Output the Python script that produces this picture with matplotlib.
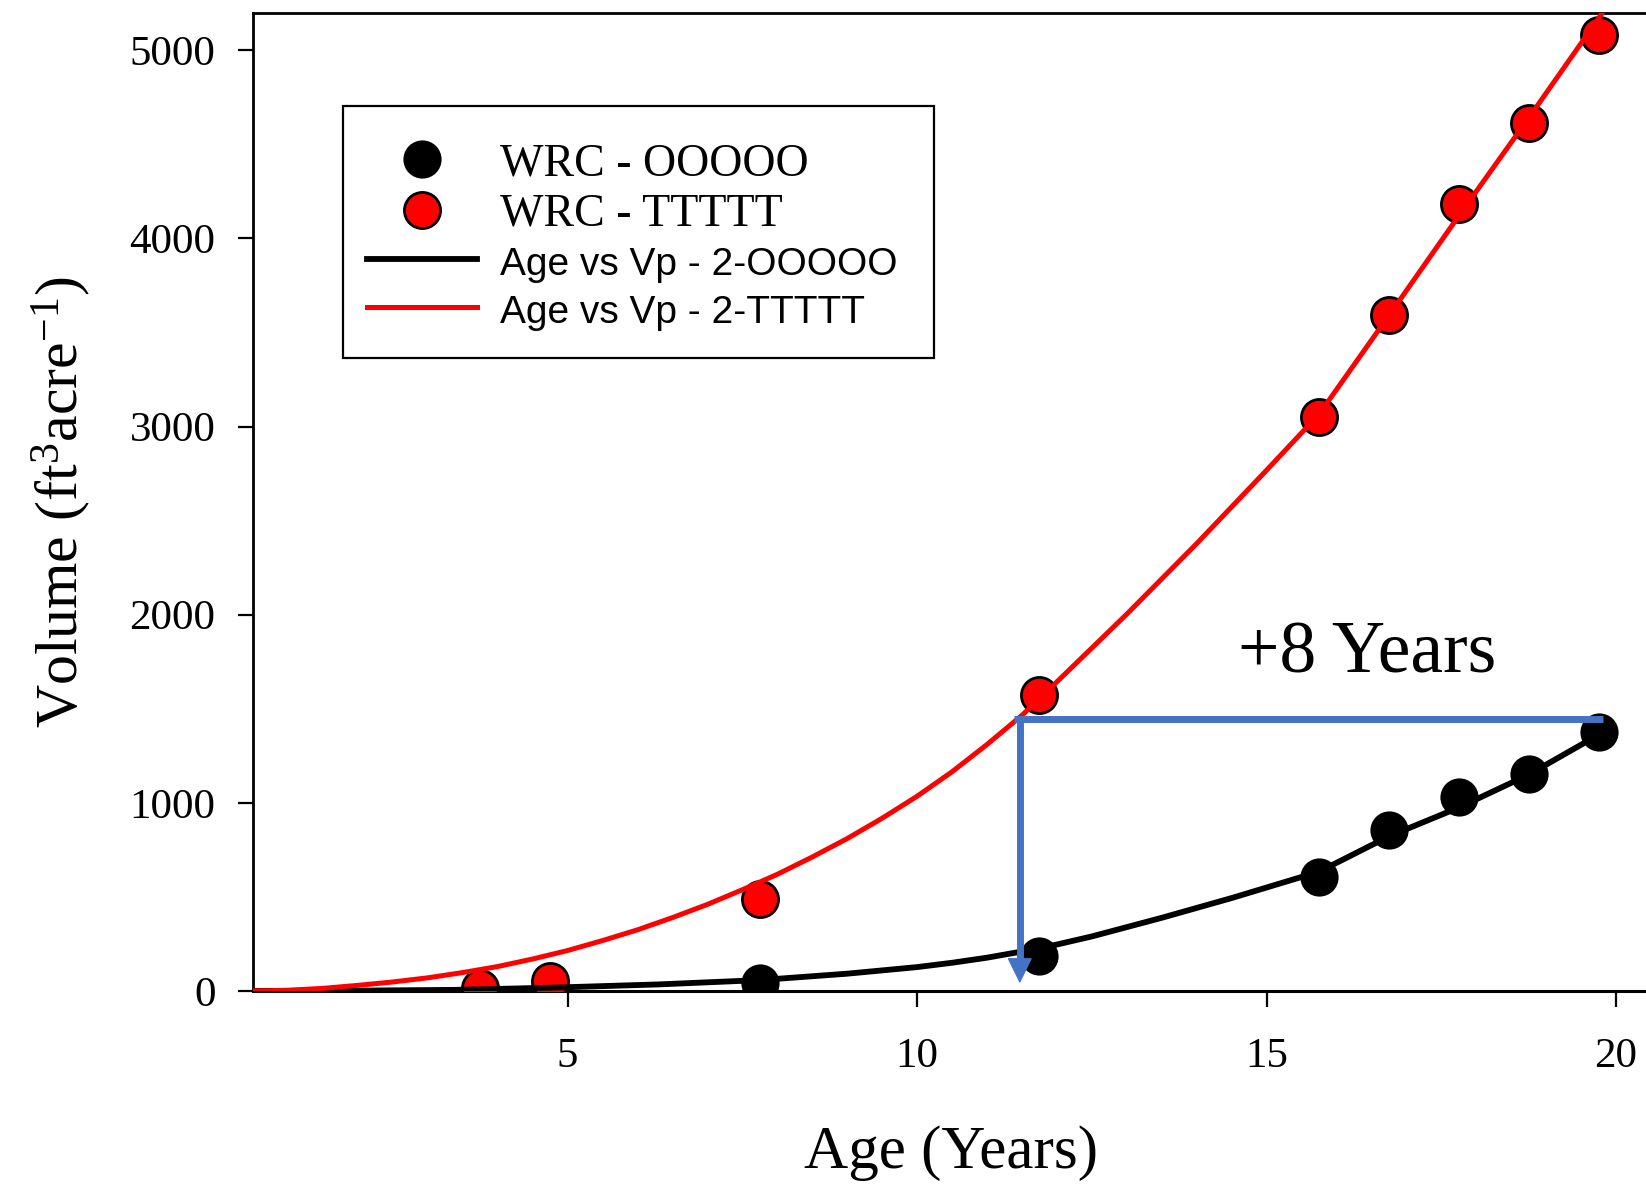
import matplotlib
matplotlib.use("Agg")
import matplotlib.pyplot as plt
from matplotlib.patches import Rectangle

plt.rcParams["font.family"] = "Liberation Serif"
plt.rcParams["mathtext.fontset"] = "custom"
plt.rcParams["mathtext.rm"] = "Liberation Serif"
plt.rcParams["mathtext.it"] = "Liberation Serif:italic"

# Observed stand volumes (ft^3 per acre) by age
age_tt = [3.75, 4.75, 7.75, 11.75, 15.75, 16.75, 17.75, 18.75, 19.75]
vol_tt = [14, 53, 487, 1572, 3050, 3592, 4185, 4614, 5080]
age_oo = [4.75, 7.75, 11.75, 15.75, 16.75, 17.75, 18.75, 19.75]
vol_oo = [22, 41, 186, 607, 855, 1029, 1151, 1378]

# Predicted volume (Vp) curves
fit_age_tt = [0.5, 1.0, 1.5, 2.0, 2.5, 3.0, 3.5, 4.0, 4.5, 5.0, 5.5, 6.0,
              6.5, 7.0, 7.5, 8.0, 8.5, 9.0, 9.5, 10.0, 10.5, 11.0, 11.5,
              11.75, 12.0, 13.0, 14.0, 15.0, 15.75, 16.75, 17.75, 18.75,
              19.75, 19.9]
fit_vp_tt = [0, 4, 14, 30, 48, 70, 98, 130, 170, 215, 268, 325,
             390, 460, 538, 620, 712, 810, 918, 1035, 1165, 1310, 1465,
             1553, 1643, 2003, 2378, 2768, 3065, 3590, 4120, 4640,
             5170, 5250]
fit_age_oo = [0.5, 2.0, 3.4, 4.8, 6.3, 7.75, 9.0, 10.0, 10.5, 11.0, 11.5,
              11.75, 12.0, 12.5, 13.5, 14.5, 15.75, 16.75, 17.75, 18.75,
              19.75]
fit_vp_oo = [0, 2, 6, 18, 35, 58, 92, 127, 150, 177, 210,
             228, 247, 290, 389, 494, 634, 822, 975, 1150,
             1362]

# Age-shift annotation
shift_from_age = 11.47
shift_to_age = 19.82
shift_vol = 1444
shift_arrow_tip = 41
shift_label = "+8 Years"

xticks = [5, 10, 15, 20]
yticks = [0, 1000, 2000, 3000, 4000, 5000]

W, H = 1646, 1185
fig = plt.figure(figsize=(W / 100, H / 100), dpi=100)
ax = fig.add_axes([253 / W, 1 - 991 / H, 1 - 253 / W, (991 - 12.7) / H])

blue = "#4472C4"

ax.plot(age_oo, vol_oo, "o", ls="none", ms=26, mfc="black", mec="black",
        mew=1.5, zorder=3, label="WRC - OOOOO")
ax.plot(age_tt, vol_tt, "o", ls="none", ms=26, mfc="#FF0000", mec="black",
        mew=2, zorder=3, label="WRC - TTTTT")
ax.plot(fit_age_oo, fit_vp_oo, color="black", lw=4.2, zorder=4,
        solid_joinstyle="round", label="Age vs Vp - 2-OOOOO")
ax.plot(fit_age_tt, fit_vp_tt, color="#FF0000", lw=3.6, zorder=5,
        solid_joinstyle="round", label="Age vs Vp - 2-TTTTT")

# horizontal and vertical shift lines with arrowhead
ax.plot([shift_from_age - 0.08, shift_to_age], [shift_vol, shift_vol],
        color=blue, lw=5, solid_capstyle="butt", zorder=6)
ax.plot([shift_from_age, shift_from_age], [shift_vol + 15, shift_arrow_tip + 110],
        color=blue, lw=5, solid_capstyle="butt", zorder=6)
ax.annotate("", xy=(shift_from_age, shift_arrow_tip),
            xytext=(shift_from_age, shift_arrow_tip + 160),
            arrowprops=dict(arrowstyle="-|>,head_length=0.55,head_width=0.27",
                            mutation_scale=30, lw=1, color=blue,
                            shrinkA=0, shrinkB=0),
            zorder=6)

ax.text(16.44, 1695, shift_label, ha="center", va="baseline", fontsize=53)

ax.set_xlim(0.5, 0.5 + (W - 253) / 69.9)
ax.set_ylim(0, 5200)
ax.set_xticks(xticks)
ax.set_yticks(yticks)
ax.set_xticklabels([str(v) for v in xticks], fontsize=31)
ax.set_yticklabels([str(v) for v in yticks], fontsize=31)
ax.tick_params(axis="y", direction="out", length=11, width=1.6, pad=16)
ax.tick_params(axis="x", direction="out", length=11.5, width=1.6, pad=22)

ax.spines["right"].set_visible(False)
for s in ("left", "top"):
    ax.spines[s].set_linewidth(2)
ax.spines["bottom"].set_linewidth(2.2)

ax.set_xlabel("Age (Years)", fontsize=44)
ax.xaxis.set_label_coords(0.501, -0.137)
ax.set_ylabel(r"Volume (ft$^{3}$acre$^{-1}$)", fontsize=43)
ax.yaxis.set_label_coords(-0.115, 0.50)

# legend entries without frame; the box is drawn separately
leg = ax.legend(loc="upper left", bbox_to_anchor=(343 / W, 1 - 119 / H),
                bbox_transform=fig.transFigure, borderaxespad=0,
                fontsize=33, frameon=False,
                numpoints=1, handlelength=2.4, handletextpad=0.5,
                borderpad=0.52, labelspacing=0.17)
for t in leg.get_texts()[2:]:
    t.set_fontfamily("Liberation Sans")
    t.set_fontsize(28)

fig.add_artist(Rectangle((343 / W, 1 - 358 / H), (934 - 343) / W, (358 - 106) / H,
                         transform=fig.transFigure, fill=False,
                         edgecolor="black", linewidth=1.6, zorder=10))

fig.savefig("out.png", dpi=100)
